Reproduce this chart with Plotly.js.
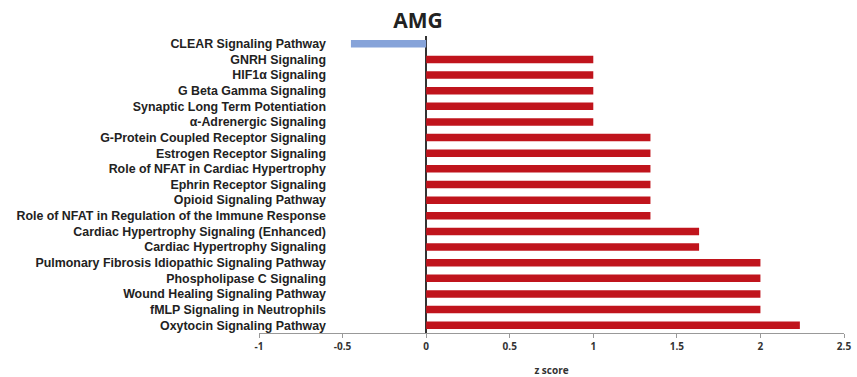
<!DOCTYPE html>
<html>
<head>
<meta charset="utf-8">
<script src="https://cdn.plot.ly/plotly-3.0.1.min.js"></script>
<style>html,body{margin:0;padding:0;background:#fff;}#chart{width:857px;height:377px;}</style>
</head>
<body>
<div id="chart"></div>
<script>
const pathways = [
  "CLEAR Signaling Pathway",
  "GNRH Signaling",
  "HIF1α Signaling",
  "G Beta Gamma Signaling",
  "Synaptic Long Term Potentiation",
  "α-Adrenergic Signaling",
  "G-Protein Coupled Receptor Signaling",
  "Estrogen Receptor Signaling",
  "Role of NFAT in Cardiac Hypertrophy",
  "Ephrin Receptor Signaling",
  "Opioid Signaling Pathway",
  "Role of NFAT in Regulation of the Immune Response",
  "Cardiac Hypertrophy Signaling (Enhanced)",
  "Cardiac Hypertrophy Signaling",
  "Pulmonary Fibrosis Idiopathic Signaling Pathway",
  "Phospholipase C Signaling",
  "Wound Healing Signaling Pathway",
  "fMLP Signaling in Neutrophils",
  "Oxytocin Signaling Pathway"
];
const zScores = [-0.45, 1.0, 1.0, 1.0, 1.0, 1.0, 1.342, 1.342, 1.342, 1.342, 1.342, 1.342, 1.633, 1.633, 2.0, 2.0, 2.0, 2.0, 2.236];
const xTickVals = [-1, -0.5, 0, 0.5, 1, 1.5, 2, 2.5];
const xTickText = ["-1", "-0.5", "0", "0.5", "1", "1.5", "2", "2.5"];
const chartTitle = "AMG";
const xTitle = "z score";

const colors = zScores.map(v => v < 0 ? "#86A3D9" : "#C0141C");

const trace = {
  type: "bar",
  orientation: "h",
  x: zScores,
  y: pathways,
  marker: {color: colors, line: {width: 0}},
  hoverinfo: "x+y"
};

const layout = {
  width: 857, height: 377,
  margin: {l: 259, r: 13, t: 36, b: 44, pad: 0},
  paper_bgcolor: "#fff", plot_bgcolor: "#fff",
  showlegend: false,
  bargap: 0.52,
  title: {
    text: "<b>" + chartTitle + "</b>",
    font: {family: "Open Sans, Lato, sans-serif", size: 21, color: "#222"},
    x: 418/857, xanchor: "center", xref: "container",
    y: 1 - 20.5/377, yanchor: "middle", yref: "container"
  },
  xaxis: {
    range: [-1, 2.5],
    tickvals: xTickVals, ticktext: xTickText,
    tickfont: {family: "Open Sans, sans-serif", size: 10, color: "#333", weight: "bold"},
    ticks: "outside", ticklen: 4, tickwidth: 1, tickcolor: "#999",
    showline: true, linecolor: "#999", linewidth: 1,
    showgrid: false,
    zeroline: true, zerolinecolor: "#333", zerolinewidth: 1.5,
    fixedrange: true,
    title: {text: "<b>" + xTitle + "</b>", font: {family: "Open Sans, sans-serif", size: 10, color: "#333"}, standoff: 14}
  },
  yaxis: {
    type: "category",
    autorange: "reversed",
    anchor: "free", position: (326 - 259) / 585,
    showline: false, showgrid: false, zeroline: false, ticks: "",
    tickfont: {family: "Liberation Sans, Arial, sans-serif", size: 12.4, color: "#222", weight: "bold"},
    fixedrange: true
  }
};

Plotly.newPlot("chart", [trace], layout, {displayModeBar: false, staticPlot: true});
</script>
</body>
</html>
